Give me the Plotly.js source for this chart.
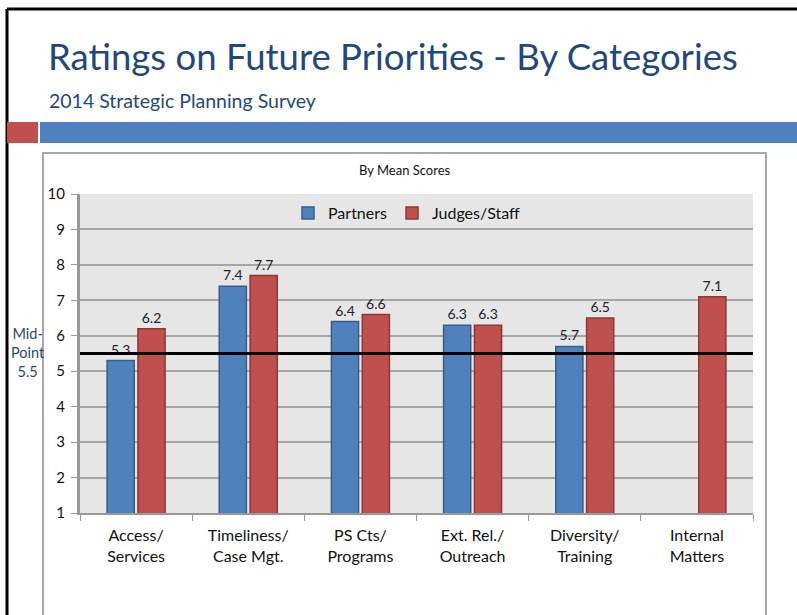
<!DOCTYPE html>
<html>
<head>
<meta charset="utf-8">
<script src="https://cdn.plot.ly/plotly-3.0.1.min.js"></script>
<style>html,body{margin:0;padding:0;background:#fff;}#chart{width:797px;height:615px;}</style>
</head>
<body>
<div id="chart"></div>
<script>
const categories = ["Access/<br>Services", "Timeliness/<br>Case Mgt.", "PS Cts/<br>Programs", "Ext. Rel./<br>Outreach", "Diversity/<br>Training", "Internal<br>Matters"];
const partners = [5.3, 7.4, 6.4, 6.3, 5.7, null];
const judgesStaff = [6.2, 7.7, 6.6, 6.3, 6.5, 7.1];
const midPoint = 5.5;
const seriesNames = ["Partners", "Judges/Staff"];

const FONT = "Lato, 'Open Sans', sans-serif";
const TITLE_BLUE = "#1f497d";

function fmt(arr){ return arr.map(v => v === null ? "" : v.toFixed(1)); }

const traces = [
  {type:"bar", name:seriesNames[0], x:categories, y:partners, text:fmt(partners),
   textposition:"outside", cliponaxis:false,
   textfont:{family:FONT, size:14, color:"#222"},
   marker:{color:"#4f81bd", line:{color:"#385d8a", width:1.5}}},
  {type:"bar", name:seriesNames[1], x:categories, y:judgesStaff, text:fmt(judgesStaff),
   textposition:"outside", cliponaxis:false,
   textfont:{family:FONT, size:14, color:"#222"},
   marker:{color:"#c0504d", line:{color:"#8c3836", width:1.5}}}
];

// plot area: x 80..753, y 194..513
const L = 80, R = 753, T = 194, B = 513;
const W = R - L, H = B - T;
const px = x => (x - L) / W;
const py = y => (B - y) / H;

const layout = {
  width:797, height:615,
  margin:{l:L, r:797-R, t:T, b:615-B, pad:0},
  paper_bgcolor:"#ffffff",
  plot_bgcolor:"#e6e6e6",
  font:{family:FONT, color:"#111"},
  barmode:"group",
  bargap:0.45,
  bargroupgap:0.12,
  showlegend:true,
  legend:{orientation:"h", x:px(288), y:py(196), xanchor:"left", yanchor:"top",
          bgcolor:"rgba(0,0,0,0)", font:{family:FONT, size:16, color:"#111"},
          itemwidth:30, tracegroupgap:0},
  xaxis:{type:"category", tickson:"boundaries", ticks:"outside", ticklen:6, tickcolor:"#999",
         showline:true, linecolor:"#999", linewidth:2, showgrid:false,
         ticklabelstandoff:7,
         tickfont:{family:FONT, size:16, color:"#111"}, fixedrange:true},
  yaxis:{range:[1,10], dtick:1, tick0:1, ticks:"outside", ticklen:6, tickcolor:"#999",
         showline:true, linecolor:"#999", linewidth:3,
         showgrid:true, gridcolor:"#a6a6a6", gridwidth:2, zeroline:false,
         ticklabelstandoff:3,
         tickfont:{family:FONT, size:15, color:"#111"}, fixedrange:true},
  shapes:[
    // slide border
    {type:"line", xref:"paper", yref:"paper", x0:px(7), x1:px(800), y0:py(9), y1:py(9), line:{color:"#000", width:3}},
    {type:"line", xref:"paper", yref:"paper", x0:px(7), x1:px(7), y0:py(9), y1:py(620), line:{color:"#000", width:3}},
    // header bars
    {type:"rect", xref:"paper", yref:"paper", x0:px(7), x1:px(38), y0:py(122), y1:py(143), fillcolor:"#c0504d", line:{width:0}},
    {type:"rect", xref:"paper", yref:"paper", x0:px(40), x1:px(800), y0:py(122), y1:py(143), fillcolor:"#4f81bd", line:{width:0}},
    // chart frame
    {type:"rect", xref:"paper", yref:"paper", x0:px(43), x1:px(766), y0:py(153), y1:py(640), fillcolor:"rgba(0,0,0,0)", line:{color:"#8c8c8c", width:1.5}, layer:"below"},
    // midpoint line
    {type:"line", xref:"paper", yref:"y", x0:0, x1:1, y0:midPoint, y1:midPoint, line:{color:"#000", width:3}}
  ],
  annotations:[
    {text:"Ratings on Future Priorities - By Categories", xref:"paper", yref:"paper", x:px(46), y:py(56),
     xanchor:"left", yanchor:"middle", showarrow:false, font:{family:FONT, size:36.5, color:TITLE_BLUE}},
    {text:"2014 Strategic Planning Survey", xref:"paper", yref:"paper", x:px(47), y:py(100),
     xanchor:"left", yanchor:"middle", showarrow:false, font:{family:FONT, size:19.5, color:TITLE_BLUE}},
    {text:"By Mean Scores", xref:"paper", yref:"paper", x:px(405), y:py(170),
     xanchor:"center", yanchor:"middle", showarrow:false, font:{family:FONT, size:13, color:"#111"}},
    {text:"Mid-<br>Point<br>" + midPoint.toFixed(1), xref:"paper", yref:"paper", x:px(28), y:py(352),
     xanchor:"center", yanchor:"middle", align:"center", showarrow:false, font:{family:FONT, size:14.5, color:TITLE_BLUE}}
  ]
};

Plotly.newPlot("chart", traces, layout, {staticPlot:true, displayModeBar:false});
</script>
</body>
</html>
